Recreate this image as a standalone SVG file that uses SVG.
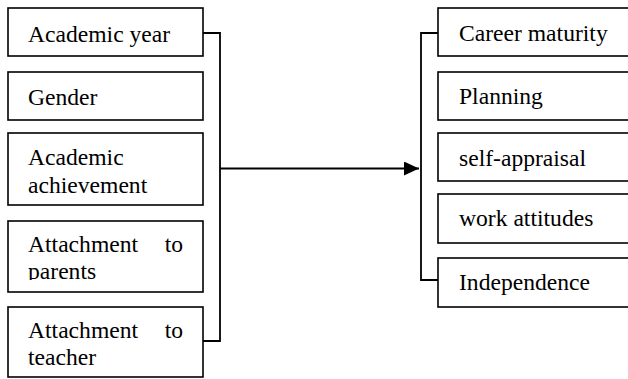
<svg xmlns="http://www.w3.org/2000/svg" width="628" height="379" viewBox="0 0 628 379">
<style>
.box{fill:#fff;stroke:#000;stroke-width:1.6}
.t{font-family:"Liberation Serif","Times New Roman",serif;font-size:23.6px;fill:#000}
.c{fill:none;stroke:#000;stroke-width:1.8}
</style>
<defs>
<marker id="ah" markerWidth="16" markerHeight="14" refX="15" refY="7" orient="auto" markerUnits="userSpaceOnUse">
<path d="M0,0 L15,7 L0,14 Z" fill="#000"/>
</marker>
<clipPath id="clip4"><rect x="8" y="221" width="195" height="59"/></clipPath>
</defs>
<g id="connectors">
<path class="c" d="M203,33 H220 V341 H203"/>
<path class="c" d="M220,168.5 H419" marker-end="url(#ah)"/>
<path class="c" d="M438,33 H421 V280 H438"/>
</g>
<g id="n-academic-year"><rect class="box" x="8" y="8" width="195" height="48"/><text class="t" x="28" y="41.5">Academic year</text></g>
<g id="n-gender"><rect class="box" x="8" y="72" width="195" height="48"/><text class="t" x="28" y="105">Gender</text></g>
<g id="n-academic-achievement"><rect class="box" x="8" y="133" width="195" height="72"/><text class="t" x="28" y="165">Academic</text><text class="t" x="28" y="193">achievement</text></g>
<g id="n-attachment-parents"><rect class="box" x="8" y="221" width="195" height="71"/><g clip-path="url(#clip4)"><text class="t" x="28" y="252">Attachment</text><text class="t" x="183" y="252" text-anchor="end">to</text><text class="t" x="28" y="279">parents</text></g></g>
<g id="n-attachment-teacher"><rect class="box" x="8" y="307" width="195" height="70"/><text class="t" x="28" y="338">Attachment</text><text class="t" x="183" y="338" text-anchor="end">to</text><text class="t" x="28" y="365">teacher</text></g>
<g id="n-career-maturity"><rect class="box" x="438" y="8" width="195" height="48"/><text class="t" x="459" y="41">Career maturity</text></g>
<g id="n-planning"><rect class="box" x="438" y="72" width="195" height="48"/><text class="t" x="459" y="104">Planning</text></g>
<g id="n-self-appraisal"><rect class="box" x="438" y="133" width="195" height="48"/><text class="t" x="459" y="166">self-appraisal</text></g>
<g id="n-work-attitudes"><rect class="box" x="438" y="194" width="195" height="49"/><text class="t" x="459" y="226">work attitudes</text></g>
<g id="n-independence"><rect class="box" x="438" y="258" width="195" height="49"/><text class="t" x="459" y="290">Independence</text></g>
</svg>
